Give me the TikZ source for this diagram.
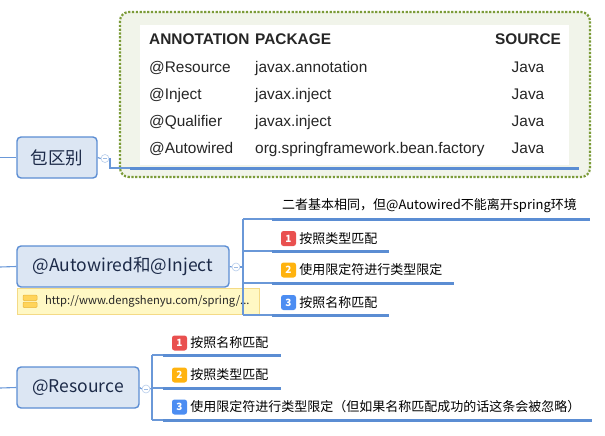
\documentclass[tikz,border=0pt]{standalone}
\usepackage{fontspec}
\setmainfont{Noto Sans CJK SC}
\newfontfamily\tablefont{Liberation Sans}
\usetikzlibrary{positioning,calc}
\definecolor{ink}{HTML}{1C2A48}
\definecolor{topicfill}{HTML}{DCE6F3}
\definecolor{topicline}{HTML}{5B8DD3}
\definecolor{branchline}{HTML}{6A98D8}
\definecolor{boundline}{HTML}{7B9B38}
\definecolor{boundfill}{HTML}{F1F4EA}
\definecolor{notefill}{HTML}{FFF8C4}
\definecolor{noteline}{HTML}{F4DA86}
\definecolor{iconfill}{HTML}{FFD45A}
\definecolor{iconline}{HTML}{E9B63A}
\definecolor{badgered}{HTML}{E9504F}
\definecolor{badgeorange}{HTML}{FFB30F}
\definecolor{badgeblue}{HTML}{4C8DF2}
\tikzset{
  topic/.style={draw=topicline,line width=1.4pt,rounded corners=4pt,fill=topicfill,text=ink,inner sep=0pt,font=\fontsize{17.5}{20}\selectfont},
  fold/.style={circle,draw=topicline!45,fill=white,line width=.6pt,minimum size=8pt,inner sep=0pt,
    path picture={\draw[topicline!60,line width=.5pt] ([xshift=-2pt]path picture bounding box.center) -- ([xshift=2pt]path picture bounding box.center);}},
  branch/.style={draw=branchline,line width=1.1pt},
  uline/.style={draw=topicline,line width=3pt},
  leaf/.style={anchor=west,inner sep=0pt,text=black,font=\fontsize{13}{15}\selectfont},
  badge/.style={rounded corners=2.5pt,minimum size=15pt,inner sep=0pt,text=white,font=\bfseries\fontsize{10}{10}\selectfont},
  cell/.style={anchor=base west,inner sep=0pt,text=black!85,font=\tablefont\fontsize{15.4}{17}\selectfont},
  hcell/.style={cell,font=\tablefont\bfseries\fontsize{15.4}{17}\selectfont},
  note/.style={draw=noteline,line width=.8pt,fill=notefill,minimum width=242pt,minimum height=26pt,inner sep=0pt},
}

\begin{document}
\begin{tikzpicture}[x=1pt,y=-1pt]
\useasboundingbox (0,0) rectangle (605,436);
% table of packages
\draw[boundline,fill=boundfill,line width=2.2pt,dash pattern=on 2.2pt off 1.6pt,rounded corners=9pt] (120,12) rectangle (590,177);
\fill[white] (140,25) rectangle (569,165);
\node[hcell] (h1) at (149,45) {ANNOTATION};
\node[hcell] (h2) at (255,45) {PACKAGE};
\node[hcell,anchor=base] (h3) at (528,45) {SOURCE};
\node[cell] (r1a) at (149,72.5) {@Resource};
\node[cell] (r1b) at (255,72.5) {javax.annotation};
\node[cell,anchor=base] (r1c) at (528,72.5) {Java};
\node[cell] (r2a) at (149,99.5) {@Inject};
\node[cell] (r2b) at (255,99.5) {javax.inject};
\node[cell,anchor=base] (r2c) at (528,99.5) {Java};
\node[cell] (r3a) at (149,126.5) {@Qualifier};
\node[cell] (r3b) at (255,126.5) {javax.inject};
\node[cell,anchor=base] (r3c) at (528,126.5) {Java};
\node[cell] (r4a) at (149,153.5) {@Autowired};
\node[cell] (r4b) at (255,153.5) {org.springframework.bean.factory};
\node[cell,anchor=base] (r4c) at (528,153.5) {Java};
\coordinate (tl) at (130,168);
\coordinate (tr) at (579,168);
\draw[uline] (tl) -- (tr);

% 包区别
\coordinate (s1) at (0,157.5);
\node[topic,minimum width=80pt,minimum height=41pt] (pkg) at (57,157.5) {包区别};
\node[fold] (f1) at (105,158.5) {};
\coordinate (k1) at (110,168);
\draw[branch] (s1) -- (pkg.west);
\draw[branch] (pkg.east) -- (f1.west);
\draw[branch] (f1.east) -| (k1) -- (tl);

% @Autowired和@Inject
\coordinate (s2) at (0,267);
\node[note] (url) at (138,301) {};
\node[topic,minimum width=212pt,minimum height=41pt] (ai) at (123,266.5) {@Autowired和@Inject};
\draw[iconline,fill=iconfill,line width=.5pt,rounded corners=1pt] (23,295) rectangle (37,300.5);
\draw[iconline,fill=iconfill,line width=.5pt,rounded corners=1pt] (23,302) rectangle (37,307.5);
\node[anchor=west,inner sep=0pt,text=black!85,font=\fontsize{11.2}{13}\selectfont] (urltxt) at (45,301.5) {http://www.dengshenyu.com/spring/...};
\node[fold] (f2) at (236,267) {};
\draw[branch] (s2) -- (ai.west);
\draw[branch] (ai.east) -- (f2.west);
\coordinate (v2) at (243,267);
\coordinate (a1) at (272,219);
\coordinate (a2) at (272,251);
\coordinate (a3) at (272,283);
\coordinate (a4) at (272,315);
\draw[branch] (f2.east) -- (v2);
\draw[branch] (v2 |- a1) -- (v2 |- a4);
\draw[branch] (v2 |- a1) -- (a1);
\draw[branch] (v2 |- a2) -- (a2);
\draw[branch] (v2 |- a3) -- (a3);
\draw[branch] (v2 |- a4) -- (a4);
\draw[uline] (a1) -- (590,219);
\draw[uline] (a2) -- (389,251);
\draw[uline] (a3) -- (454,283);
\draw[uline] (a4) -- (389,315);
\node[leaf] (t1) at (282,206) {二者基本相同，但@Autowired不能离开spring环境};
\node[badge,fill=badgered] (b1) at (288.5,238.5) {1};
\node[leaf,right=3pt of b1] (t2) {按照类型匹配};
\node[badge,fill=badgeorange] (b2) at (288.5,270) {2};
\node[leaf,right=3pt of b2] (t3) {使用限定符进行类型限定};
\node[badge,fill=badgeblue] (b3) at (288.5,302.5) {3};
\node[leaf,right=3pt of b3] (t4) {按照名称匹配};

% @Resource
\coordinate (s3) at (0,388);
\node[topic,minimum width=122pt,minimum height=41pt] (res) at (78,387.5) {@Resource};
\node[fold] (f3) at (146,389) {};
\draw[branch] (s3) -- (res.west);
\draw[branch] (res.east) -- (f3.west);
\coordinate (v3) at (152,388);
\coordinate (c1) at (163,355);
\coordinate (c2) at (163,388);
\coordinate (c3) at (163,420);
\draw[branch] (f3.east) -- (v3);
\draw[branch] (v3 |- c1) -- (v3 |- c3);
\draw[branch] (v3 |- c1) -- (c1);
\draw[branch] (v3 |- c2) -- (c2);
\draw[branch] (v3 |- c3) -- (c3);
\draw[uline] (c1) -- (281,355);
\draw[uline] (c2) -- (281,388);
\draw[uline] (c3) -- (592,420);
\node[badge,fill=badgered] (d1) at (179.5,343) {1};
\node[leaf,right=3pt of d1] (u1) {按照名称匹配};
\node[badge,fill=badgeorange] (d2) at (179.5,375) {2};
\node[leaf,right=3pt of d2] (u2) {按照类型匹配};
\node[badge,fill=badgeblue] (d3) at (179.5,407) {3};
\node[leaf,right=3pt of d3] (u3) {使用限定符进行类型限定（但如果名称匹配成功的话这条会被忽略）};
\end{tikzpicture}
\end{document}
